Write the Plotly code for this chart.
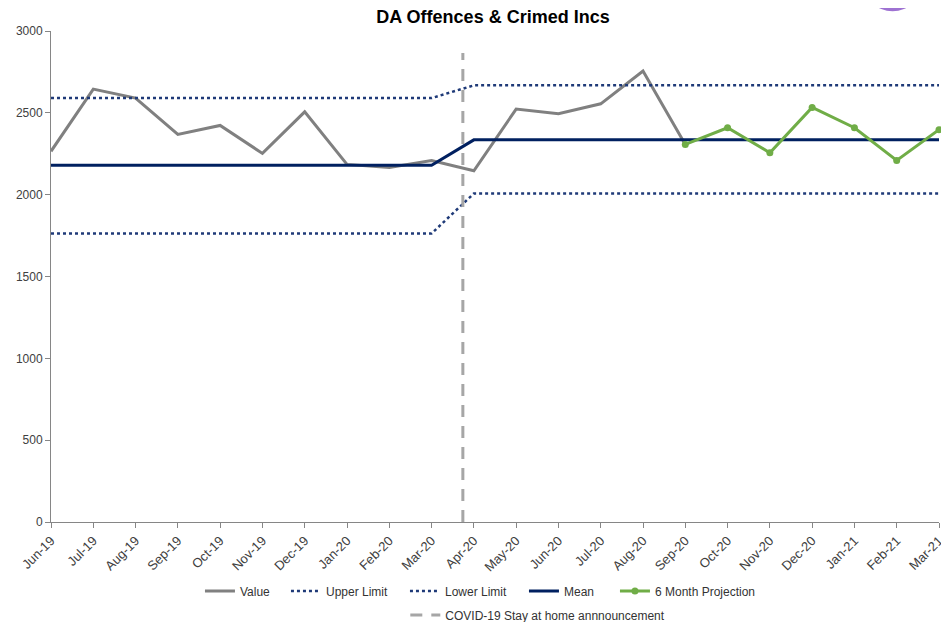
import plotly.graph_objects as go

months = ["Jun-19", "Jul-19", "Aug-19", "Sep-19", "Oct-19", "Nov-19", "Dec-19",
          "Jan-20", "Feb-20", "Mar-20", "Apr-20", "May-20", "Jun-20", "Jul-20",
          "Aug-20", "Sep-20", "Oct-20", "Nov-20", "Dec-20", "Jan-21", "Feb-21", "Mar-21"]

value = [2265, 2645, 2590, 2368, 2423, 2252, 2506, 2185, 2166, 2209, 2146,
         2523, 2494, 2555, 2755, 2307, None, None, None, None, None, None]

projection = [None] * 15 + [2307, 2409, 2256, 2533, 2409, 2209, 2397]

mean = [2180] * 10 + [2335] * 12
upper_limit = [2590] * 10 + [2668] * 12
lower_limit = [1763] * 10 + [2007] * 12

covid_position = 9.74   # 23 Mar 2020, between Mar-20 and Apr-20
covid_line_top = 2865

y_ticks = [0, 500, 1000, 1500, 2000, 2500, 3000]

x = list(range(len(months)))
FONT = "Liberation Sans, Arial, sans-serif"

fig = go.Figure()

fig.add_trace(go.Scatter(x=x, y=value, name="Value", mode="lines", legendwidth=41,
                         line=dict(color="#808080", width=3), legend="legend"))
fig.add_trace(go.Scatter(x=x, y=upper_limit, name="Upper Limit", mode="lines", legendwidth=74,
                         line=dict(color="#1F3A78", width=2.5, dash="dot"), legend="legend"))
fig.add_trace(go.Scatter(x=x, y=lower_limit, name="Lower Limit", mode="lines", legendwidth=74,
                         line=dict(color="#1F3A78", width=2.5, dash="dot"), legend="legend"))
fig.add_trace(go.Scatter(x=x, y=mean, name="Mean", mode="lines", legendwidth=46,
                         line=dict(color="#002060", width=3), legend="legend"))
fig.add_trace(go.Scatter(x=x, y=projection, name="6 Month Projection", mode="lines+markers",
                         line=dict(color="#70AD47", width=3), legendwidth=118,
                         marker=dict(color="#70AD47", size=7), cliponaxis=False,
                         legend="legend"))
fig.add_trace(go.Scatter(x=[covid_position, covid_position], y=[0, covid_line_top],
                         name="COVID-19 Stay at home annnouncement", mode="lines",
                         line=dict(color="#A6A6A6", width=3, dash="12px,9px"),
                         legend="legend2"))

# page body has an 8px margin: shrink the figure so it fits the 949x622 window
fig.update_layout(
    width=941, height=614,
    margin=dict(l=43, r=10, t=23, b=100, autoexpand=False),
    paper_bgcolor="white", plot_bgcolor="white",
    font=dict(family=FONT, size=12, color="#404040"),
    title=dict(text="<b>DA Offences & Crimed Incs</b>", x=0.5154, xanchor="center",
               y=0.996, yanchor="top",
               font=dict(family=FONT, size=18, color="#000000")),
    xaxis=dict(range=[0, 21], tickmode="array", tickvals=x, ticktext=months,
               tickangle=-45, showgrid=False, zeroline=False, automargin=False,
               showline=True, linecolor="#868686", linewidth=1,
               ticks="outside", ticklen=5, tickcolor="#868686",
               tickfont=dict(size=13, color="#404040")),
    yaxis=dict(range=[0, 3000], tickvals=y_ticks, showgrid=False, zeroline=False,
               automargin=False,
               showline=True, linecolor="#868686", linewidth=1,
               ticks="outside", ticklen=5, tickcolor="#868686",
               tickfont=dict(size=12, color="#404040")),
    legend=dict(orientation="h", x=0.4932, xanchor="center", y=-0.1405, yanchor="middle",
                font=dict(size=12, color="#333333"), bgcolor="rgba(0,0,0,0)",
                tracegroupgap=0),
    legend2=dict(orientation="h", x=0.399, xanchor="left", y=-0.1894, yanchor="middle",
                 font=dict(size=12, color="#333333"), bgcolor="rgba(0,0,0,0)"),
    showlegend=True,
    shapes=[dict(type="circle", xref="paper", yref="paper",
                 x0=0.9145, x1=0.981, y0=1.04, y1=1.16,
                 fillcolor="#9E72D2", line=dict(width=0), layer="above")],
)

fig.write_html("out.html")
